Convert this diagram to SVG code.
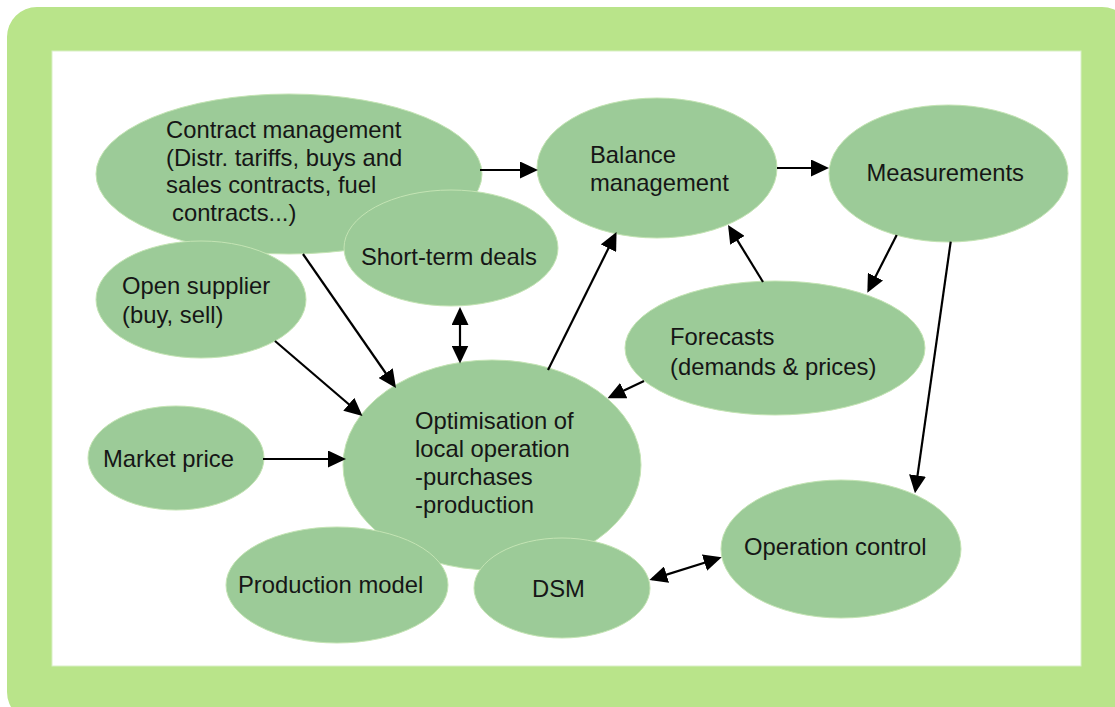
<svg xmlns="http://www.w3.org/2000/svg" width="1115" height="707" viewBox="0 0 1115 707">
<defs>
<style>
.node ellipse{fill:#9ccb98;stroke:#c4e4b4;stroke-width:1}
.node text{font-family:"Liberation Sans",Arial,sans-serif;font-size:23.8px;fill:#161616}
.conn line{stroke:#000;stroke-width:2.2}
</style>
<marker id="ah" markerUnits="userSpaceOnUse" markerWidth="18" markerHeight="17" refX="15" refY="8.5" orient="auto-start-reverse" viewBox="0 0 18 17">
<path d="M0,0 L18,8.5 L0,17 Z" fill="#000"/>
</marker>
</defs>
<rect x="7" y="7" width="1125" height="715" rx="30" fill="#b9e48a"/>
<rect x="52" y="51" width="1029" height="615" fill="#fff" stroke="#d9efc6" stroke-width="1"/>

<g id="contract" class="node">
<ellipse cx="289" cy="174" rx="193" ry="80"/>
<text x="166" y="138">Contract management</text>
<text x="166" y="165.5">(Distr. tariffs, buys and</text>
<text x="166" y="193">sales contracts, fuel</text>
<text x="172" y="220.5">contracts...)</text>
</g>
<g id="shortterm" class="node">
<ellipse cx="451" cy="248" rx="107" ry="58"/>
<text x="361" y="265">Short-term deals</text>
</g>
<g id="opensupplier" class="node">
<ellipse cx="201" cy="299.5" rx="105" ry="58.5"/>
<text x="122" y="294">Open supplier</text>
<text x="122" y="322.5">(buy, sell)</text>
</g>
<g id="balance" class="node">
<ellipse cx="657" cy="168" rx="120" ry="70"/>
<text x="590" y="163">Balance</text>
<text x="590" y="191">management</text>
</g>
<g id="measurements" class="node">
<ellipse cx="948.5" cy="173.5" rx="119.5" ry="68.5"/>
<text x="866.5" y="180.5">Measurements</text>
</g>
<g id="forecasts" class="node">
<ellipse cx="775" cy="348" rx="150" ry="67"/>
<text x="670" y="345">Forecasts</text>
<text x="670" y="375">(demands &amp; prices)</text>
</g>
<g id="marketprice" class="node">
<ellipse cx="176" cy="458" rx="88" ry="52"/>
<text x="103" y="466.5">Market price</text>
</g>
<g id="optimisation" class="node">
<ellipse cx="492" cy="465" rx="149" ry="105"/>
<text x="415" y="428.5">Optimisation of</text>
<text x="415" y="456.7">local operation</text>
<text x="415" y="485">-purchases</text>
<text x="415" y="513.3">-production</text>
</g>
<g id="productionmodel" class="node">
<ellipse cx="337" cy="585" rx="111" ry="58"/>
<text x="238" y="593.3">Production model</text>
</g>
<g id="dsm" class="node">
<ellipse cx="562" cy="588" rx="88" ry="50"/>
<text x="532" y="597.3">DSM</text>
</g>
<g id="operationcontrol" class="node">
<ellipse cx="841" cy="549" rx="120" ry="69"/>
<text x="744" y="555">Operation control</text>
</g>

<g id="connectors" class="conn">
<line x1="480" y1="170" x2="535" y2="170" marker-end="url(#ah)"/>
<line x1="777" y1="168" x2="826" y2="168" marker-end="url(#ah)"/>
<line x1="303" y1="254" x2="394.3" y2="385.5" marker-end="url(#ah)"/>
<line x1="275" y1="341" x2="360.2" y2="414" marker-end="url(#ah)"/>
<line x1="263" y1="459" x2="343" y2="459" marker-end="url(#ah)"/>
<line x1="460" y1="310" x2="460" y2="360.5" marker-start="url(#ah)" marker-end="url(#ah)"/>
<line x1="548" y1="370" x2="615.2" y2="234.7" marker-end="url(#ah)"/>
<line x1="763" y1="282" x2="729.6" y2="227.6" marker-end="url(#ah)"/>
<line x1="896.7" y1="235" x2="868.7" y2="290" marker-end="url(#ah)"/>
<line x1="950.7" y1="241.7" x2="915.4" y2="490.3" marker-end="url(#ah)"/>
<line x1="644" y1="381" x2="610.2" y2="397" marker-end="url(#ah)"/>
<line x1="652.2" y1="579.1" x2="718.8" y2="558.2" marker-start="url(#ah)" marker-end="url(#ah)"/>
</g>
</svg>
